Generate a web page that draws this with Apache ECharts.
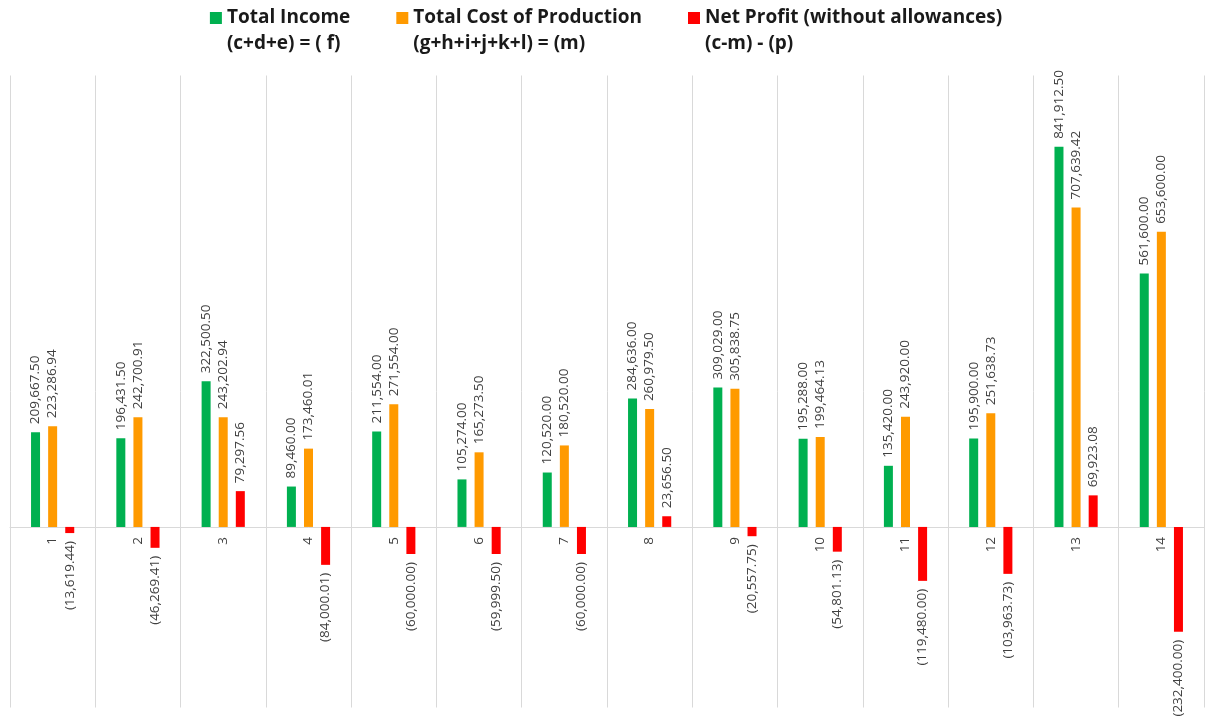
<!DOCTYPE html>
<html>
<head>
<meta charset="utf-8">
<script src="https://cdn.jsdelivr.net/npm/echarts@6/dist/echarts.min.js"></script>
<style>
  html, body { margin: 0; padding: 0; background: #fff; }
  #chart { width: 1212px; height: 726px; }
</style>
</head>
<body>
<div id="chart"></div>
<script>
// 分类（编号）
var categories = ['1', '2', '3', '4', '5', '6', '7', '8', '9', '10', '11', '12', '13', '14'];
// Total Income (c+d+e) = (f)
var totalIncome = [209667.50, 196431.50, 322500.50, 89460.00, 211554.00, 105274.00, 120520.00,
  284636.00, 309029.00, 195288.00, 135420.00, 195900.00, 841912.50, 561600.00];
// Total Cost of Production (g+h+i+j+k+l) = (m)
var totalCost = [223286.94, 242700.91, 243202.94, 173460.01, 271554.00, 165273.50, 180520.00,
  260979.50, 305838.75, 199464.13, 243920.00, 251638.73, 707639.42, 653600.00];
// Net Profit (without allowances) (c-m) - (p)
var netProfit = [-13619.44, -46269.41, 79297.56, -84000.01, -60000.00, -59999.50, -60000.00,
  23656.50, -20557.75, -54801.13, -119480.00, -103963.73, 69923.08, -232400.00];
var seriesNames = ['Total Income', 'Total Cost of Production', 'Net Profit (without allowances)'];
var seriesSubNames = ['(c+d+e) = ( f)', '(g+h+i+j+k+l) = (m)', '(c-m) - (p)'];
var colors = ['#00B050', '#FF9A00', '#FF0000'];
// y轴范围
var yMin = -400000;
var yMax = 1000000;

var labelFont = 'Open Sans';
var gridTop = 75.5;
var gridBottom = 18.5;

function fmt(v) {
  var s = Math.abs(v).toLocaleString('en-US', { minimumFractionDigits: 2, maximumFractionDigits: 2 });
  return v < 0 ? '(' + s + ')' : s;
}

// 正值标签在柱顶向上，负值标签在柱底向下
function toItems(arr) {
  return arr.map(function (v) {
    return {
      value: v,
      label: {
        align: v < 0 ? 'right' : 'left'
      }
    };
  });
}

function makeSeries(idx, arr) {
  return {
    name: seriesNames[idx],
    type: 'bar',
    barWidth: 9,
    barGap: '90%',
    itemStyle: { color: colors[idx] },
    label: {
      show: true,
      position: 'outside',
      rotate: 90,
      verticalAlign: 'middle',
      distance: 8,
      color: '#404040',
      fontFamily: labelFont,
      fontSize: 13.5,
      formatter: function (p) { return fmt(p.value); }
    },
    data: toItems(arr)
  };
}

var dom = document.getElementById('chart');
var myChart = echarts.init(dom);
// x轴放到0值处
var gridHeight = dom.clientHeight - gridTop - gridBottom;
var zeroOffset = -gridHeight * (0 - yMin) / (yMax - yMin);

var option = {
  backgroundColor: '#fff',
  animation: false,
  legend: {
    top: -21,
    left: 'center',
    padding: 0,
    itemWidth: 12,
    itemHeight: 12,
    itemGap: 46,
    icon: 'rect',
    selectedMode: false,
    textStyle: {
      color: '#1a1a1a',
      fontFamily: labelFont,
      fontWeight: 'bold',
      fontSize: 19,
      lineHeight: 26
    },
    formatter: function (name) {
      var i = seriesNames.indexOf(name);
      // 首行留空，使图标对齐第一行文字
      return ' \n' + name + '\n' + seriesSubNames[i];
    },
    data: seriesNames
  },
  grid: {
    left: 10,
    right: 8,
    top: gridTop,
    bottom: gridBottom,
    containLabel: false
  },
  xAxis: {
    type: 'category',
    data: categories,
    offset: zeroOffset,
    axisTick: { show: false },
    axisLine: { show: true, onZero: false, lineStyle: { color: '#d9d9d9', width: 1 } },
    splitLine: { show: true, lineStyle: { color: '#d9d9d9', width: 1 } },
    axisLabel: {
      interval: 0,
      rotate: 90,
      margin: 10,
      color: '#404040',
      fontFamily: labelFont,
      fontSize: 13.5
    }
  },
  yAxis: {
    type: 'value',
    min: yMin,
    max: yMax,
    interval: 200000,
    axisLine: { show: false },
    axisTick: { show: false },
    axisLabel: { show: false },
    splitLine: { show: false }
  },
  series: [
    makeSeries(0, totalIncome),
    makeSeries(1, totalCost),
    makeSeries(2, netProfit)
  ]
};
myChart.setOption(option);
window.addEventListener('resize', function () {
  if (myChart) { myChart.resize(); }
});
</script>
</body>
</html>
